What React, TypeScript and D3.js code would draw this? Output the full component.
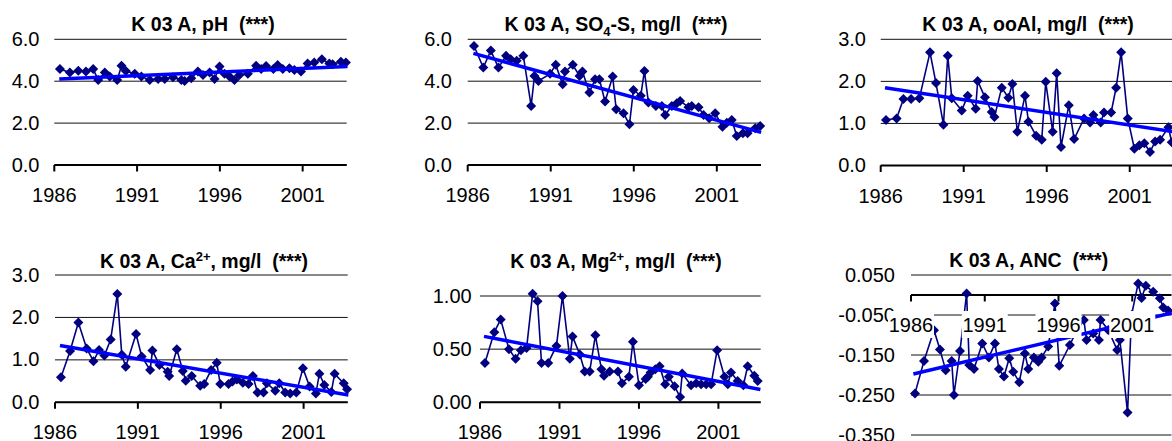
import React from 'react';
import * as d3 from 'd3';

type Pt = [number, number];

const xDomain: [number, number] = [1986, 2003.66];
const xTicks = [1986, 1991, 1996, 2001];

const phData: Pt[] = [
  [1986.34, 4.58], [1986.94, 4.41], [1987.45, 4.5], [1987.91, 4.46], [1988.35, 4.58], [1988.65, 4.06],
  [1989.05, 4.41], [1989.35, 4.22], [1989.8, 4.06], [1990.06, 4.74], [1990.32, 4.49], [1990.86, 4.35],
  [1991.26, 4.22], [1991.76, 4.06], [1992.27, 4.11], [1992.67, 4.11], [1993.17, 4.19], [1993.67, 4.06],
  [1993.87, 4.01], [1994.27, 4.14], [1994.67, 4.46], [1994.98, 4.3], [1995.38, 4.42], [1995.68, 4.11],
  [1995.98, 4.7], [1996.28, 4.35], [1996.58, 4.22], [1996.88, 4.06], [1997.18, 4.3], [1997.69, 4.35],
  [1998.19, 4.74], [1998.49, 4.58], [1998.79, 4.73], [1999.23, 4.58], [1999.49, 4.77], [1999.8, 4.58],
  [2000.2, 4.62], [2000.5, 4.54], [2000.9, 4.46], [2001.3, 4.85], [2001.7, 4.89], [2002.16, 5.05],
  [2002.61, 4.85], [2002.81, 4.81], [2003.31, 4.93], [2003.61, 4.89],
];
const phTrend: Pt[] = [[1986.3, 4.11], [2003.71, 4.7]];
const phYTicks = [0, 2, 4, 6];

const so4Data: Pt[] = [
  [1986.38, 5.68], [1986.94, 4.65], [1987.39, 5.46], [1987.85, 4.65], [1988.31, 5.21], [1988.59, 5.05],
  [1988.95, 4.98], [1989.35, 5.21], [1989.82, 2.82], [1990.02, 4.25], [1990.26, 4.01], [1990.96, 4.35],
  [1991.3, 4.78], [1991.72, 3.85], [1991.86, 4.46], [1992.33, 4.78], [1992.73, 4.25], [1992.91, 4.46],
  [1993.33, 3.46], [1993.67, 4.09], [1993.93, 4.09], [1994.27, 3.03], [1994.73, 4.22], [1994.94, 2.66],
  [1995.38, 2.47], [1995.74, 1.94], [1995.98, 3.58], [1996.42, 3.3], [1996.64, 4.49], [1996.88, 2.98],
  [1997.33, 2.82], [1997.69, 2.82], [1997.89, 2.39], [1998.29, 2.82], [1998.59, 2.95], [1998.79, 3.06],
  [1999.29, 2.76], [1999.49, 2.82], [1999.9, 2.76], [2000.2, 2.39], [2000.54, 2.23], [2000.9, 2.47],
  [2001.34, 1.83], [2001.6, 2.02], [2001.9, 2.15], [2002.2, 1.39], [2002.57, 1.51], [2002.85, 1.51],
  [2003.31, 1.75], [2003.61, 1.86],
];
const so4Trend: Pt[] = [[1986.34, 5.33], [2003.67, 1.56]];
const so4YTicks = [0, 2, 4, 6];

const ooAlData: Pt[] = [
  [1986.32, 1.08], [1986.96, 1.12], [1987.37, 1.58], [1987.83, 1.58], [1988.33, 1.6], [1988.97, 2.69],
  [1989.33, 1.96], [1989.78, 0.97], [1990.04, 2.61], [1990.28, 1.6], [1990.88, 1.31], [1991.24, 1.66],
  [1991.72, 1.35], [1991.84, 2.01], [1992.28, 1.62], [1992.69, 1.27], [1992.85, 1.15], [1993.29, 1.85],
  [1993.69, 1.61], [1993.93, 1.94], [1994.23, 0.8], [1994.69, 1.66], [1994.9, 1.04], [1995.36, 0.71],
  [1995.7, 0.61], [1995.94, 1.99], [1996.36, 0.8], [1996.6, 2.19], [1996.86, 0.44], [1997.33, 1.43],
  [1997.65, 0.63], [1998.25, 1.12], [1998.61, 1.02], [1998.81, 1.2], [1999.25, 1.02], [1999.45, 1.26],
  [1999.88, 1.26], [2000.18, 1.85], [2000.48, 2.69], [2000.88, 1.12], [2001.28, 0.4], [2001.58, 0.48],
  [2001.88, 0.53], [2002.22, 0.32], [2002.53, 0.57], [2002.83, 0.61], [2003.33, 0.91], [2003.53, 0.55],
];
const ooAlTrend: Pt[] = [[1986.26, 1.85], [2003.66, 0.8]];
const ooAlYTicks = [0, 1, 2, 3];

const caData: Pt[] = [
  [1986.36, 0.59], [1986.91, 1.21], [1987.41, 1.88], [1987.91, 1.27], [1988.32, 0.97], [1988.66, 1.23],
  [1988.98, 1.1], [1989.36, 1.48], [1989.76, 2.55], [1990.03, 1.12], [1990.27, 0.84], [1990.89, 1.61],
  [1991.23, 1.08], [1991.74, 0.76], [1991.88, 1.22], [1992.3, 0.88], [1992.8, 0.72], [1992.89, 0.62],
  [1993.35, 1.25], [1993.71, 0.74], [1993.89, 0.51], [1994.25, 0.62], [1994.76, 0.39], [1995.0, 0.43],
  [1995.42, 0.76], [1995.76, 0.93], [1995.97, 0.43], [1996.47, 0.43], [1996.71, 0.49], [1996.97, 0.54],
  [1997.33, 0.46], [1997.68, 0.43], [1997.94, 0.62], [1998.22, 0.23], [1998.58, 0.23], [1998.78, 0.45],
  [1999.29, 0.27], [1999.53, 0.45], [1999.89, 0.23], [2000.19, 0.21], [2000.56, 0.23], [2000.96, 0.8],
  [2001.36, 0.37], [2001.74, 0.21], [2001.95, 0.67], [2002.25, 0.41], [2002.67, 0.24], [2002.87, 0.67],
  [2003.42, 0.45], [2003.62, 0.31],
];
const caTrend: Pt[] = [[1986.3, 1.34], [2003.7, 0.17]];
const caYTicks = [0, 1, 2, 3];

const mgData: Pt[] = [
  [1986.31, 0.37], [1986.9, 0.66], [1987.3, 0.78], [1987.82, 0.5], [1988.24, 0.41], [1988.57, 0.49],
  [1988.93, 0.51], [1989.31, 1.02], [1989.62, 0.95], [1989.87, 0.37], [1990.29, 0.37], [1990.81, 0.53],
  [1991.19, 1.0], [1991.65, 0.41], [1991.82, 0.62], [1992.28, 0.45], [1992.59, 0.29], [1992.9, 0.29],
  [1993.26, 0.63], [1993.64, 0.31], [1993.8, 0.25], [1994.16, 0.29], [1994.68, 0.29], [1994.93, 0.18],
  [1995.37, 0.24], [1995.62, 0.57], [1996.0, 0.16], [1996.42, 0.22], [1996.56, 0.24], [1996.73, 0.28],
  [1997.03, 0.31], [1997.3, 0.34], [1997.65, 0.17], [1997.88, 0.24], [1998.24, 0.15], [1998.59, 0.05],
  [1998.72, 0.27], [1999.28, 0.16], [1999.6, 0.18], [1999.91, 0.17], [2000.23, 0.17], [2000.54, 0.17],
  [2000.92, 0.49], [2001.38, 0.24], [2001.59, 0.17], [2001.79, 0.28], [2002.21, 0.2], [2002.57, 0.16],
  [2002.84, 0.34], [2003.26, 0.25], [2003.47, 0.2],
];
const mgTrend: Pt[] = [[1986.25, 0.62], [2003.64, 0.12]];
const mgYTicks = [0, 0.5, 1.0];

const ancData: Pt[] = [
  [1986.27, -0.246], [1986.88, -0.165], [1987.56, -0.088], [1987.96, -0.136], [1988.35, -0.188],
  [1988.76, -0.165], [1988.91, -0.25], [1989.32, -0.14], [1989.77, 0.004], [1989.95, -0.175],
  [1990.27, -0.185], [1990.83, -0.121], [1991.28, -0.156], [1991.69, -0.121], [1991.96, -0.185],
  [1992.3, -0.204], [1992.66, -0.158], [1992.93, -0.192], [1993.34, -0.218], [1993.72, -0.146],
  [1993.95, -0.185], [1994.33, -0.156], [1994.63, -0.167], [1994.85, -0.156], [1995.3, -0.129],
  [1995.76, -0.021], [1996.05, -0.177], [1996.77, -0.125], [1997.22, -0.09], [1997.72, -0.0625],
  [1997.9, -0.1125], [1998.35, -0.096], [1998.74, -0.1125], [1998.85, -0.0625], [1999.37, -0.0875],
  [1999.98, -0.1375], [2000.16, -0.1125], [2000.68, -0.294], [2000.95, -0.05], [2001.4, 0.029],
  [2001.63, -0.0075], [2001.92, 0.023], [2002.42, 0.008], [2002.87, -0.008], [2003.1, -0.031],
  [2003.43, -0.039],
];
const ancTrend: Pt[] = [[1986.16, -0.1975], [2003.68, -0.045]];
const ancYTicks = [0.05, -0.05, -0.15, -0.25, -0.35];

const FONT = 'Liberation Sans, Arial, Helvetica, sans-serif';
const NAVY = '#000080';
const TREND = '#0000FF';

const diamondType = {
  draw(ctx: any, size: number) {
    const r = Math.sqrt(size / 2);
    ctx.moveTo(0, -r);
    ctx.lineTo(r, 0);
    ctx.lineTo(0, r);
    ctx.lineTo(-r, 0);
    ctx.closePath();
  },
};
const diamondPath = d3.symbol(diamondType as any, 50)() as string;

interface PanelProps {
  title: React.ReactNode;
  data: Pt[];
  trend: Pt[];
  yTicks: number[];
  yFmt: (v: number) => string;
  yDomain: [number, number];
  left: number;
  right: number;
  top: number;
  bottom: number;
  labelRight: number;
  titleX: number;
  titleY: number;
}

function Panel(p: PanelProps) {
  const x = d3.scaleLinear().domain(xDomain).range([p.left, p.right]);
  const y = d3.scaleLinear().domain(p.yDomain).range([p.bottom, p.top]);
  const line = d3.line<Pt>().x((d) => x(d[0])).y((d) => y(d[1]));
  const axisY = y(0);
  const labelBase = axisY + 37;
  return (
    <g>
      {p.yTicks.map((t) => (
        <line key={'g' + t} x1={p.left} x2={p.right} y1={y(t)} y2={y(t)} stroke="#111" strokeWidth={1} />
      ))}
      {p.yTicks.map((t) => (
        <text key={'yl' + t} x={p.labelRight} y={y(t) + 6.5} textAnchor="end" fontSize={20} fontFamily={FONT} fill="#000">
          {p.yFmt(t)}
        </text>
      ))}
      <line x1={p.left} x2={p.right} y1={axisY} y2={axisY} stroke="#000" strokeWidth={2} />
      {xTicks.map((t) => (
        <line key={'t' + t} x1={x(t)} x2={x(t)} y1={axisY} y2={axisY + 6.5} stroke="#000" strokeWidth={2} />
      ))}
      <path d={line(p.data) || ''} fill="none" stroke={NAVY} strokeWidth={1.6} />
      {p.data.map((d, i) => (
        <path key={'m' + i} d={diamondPath} transform={`translate(${x(d[0])},${y(d[1])})`} fill={NAVY} />
      ))}
      <path d={line(p.trend) || ''} fill="none" stroke={TREND} strokeWidth={3.5} />
      {xTicks.map((t) => (
        <g key={'xl' + t}>
          <rect x={x(t) - 23} y={labelBase - 21} width={46} height={27} fill="#fff" />
          <text x={x(t)} y={labelBase} textAnchor="middle" fontSize={20} fontFamily={FONT} fill="#000">
            {t}
          </text>
        </g>
      ))}
      <text x={p.titleX} y={p.titleY} textAnchor="middle" fontSize={19.5} fontWeight="bold" fontFamily={FONT} fill="#000" style={{ whiteSpace: 'pre' }}>
        {p.title}
      </text>
    </g>
  );
}

const f1 = d3.format('.1f');
const f2 = d3.format('.2f');
const f3 = (v: number) => d3.format('.3f')(v).replace('−', '-');

export default function App() {
  return (
    <svg width={1172} height={441} style={{ position: 'absolute', left: 0, top: 0, background: '#fff' }}>
      <rect x={0} y={0} width={1172} height={441} fill="#fff" />
      <Panel
        title={'K 03 A, pH  (***)'}
        data={phData} trend={phTrend} yTicks={phYTicks} yFmt={f1} yDomain={[0, 6]}
        left={54.3} right={346.7} top={39.3} bottom={165} labelRight={39.5} titleX={203} titleY={30.5}
      />
      <Panel
        title={<>{'K 03 A, SO'}<tspan dy={5} fontSize={13}>4</tspan><tspan dy={-5}>{'-S, mg/l  (***)'}</tspan></>}
        data={so4Data} trend={so4Trend} yTicks={so4YTicks} yFmt={f1} yDomain={[0, 6]}
        left={467.7} right={761} top={39.3} bottom={165} labelRight={452} titleX={616} titleY={30.5}
      />
      <Panel
        title={'K 03 A, ooAl, mg/l  (***)'}
        data={ooAlData} trend={ooAlTrend} yTicks={ooAlYTicks} yFmt={f1} yDomain={[0, 3]}
        left={880.7} right={1173.9} top={39.3} bottom={165.5} labelRight={866} titleX={1028} titleY={30.5}
      />
      <Panel
        title={<>{'K 03 A, Ca'}<tspan dy={-7} fontSize={13}>2+</tspan><tspan dy={7}>{', mg/l  (***)'}</tspan></>}
        data={caData} trend={caTrend} yTicks={caYTicks} yFmt={f1} yDomain={[0, 3]}
        left={55} right={347.7} top={275} bottom={402.3} labelRight={39.5} titleX={204} titleY={267.7}
      />
      <Panel
        title={<>{'K 03 A, Mg'}<tspan dy={-7} fontSize={13}>2+</tspan><tspan dy={7}>{', mg/l  (***)'}</tspan></>}
        data={mgData} trend={mgTrend} yTicks={mgYTicks} yFmt={f2} yDomain={[0, 1]}
        left={480} right={760.7} top={296} bottom={402.3} labelRight={471.7} titleX={616} titleY={267.7}
      />
      <Panel
        title={'K 03 A, ANC  (***)'}
        data={ancData} trend={ancTrend} yTicks={ancYTicks} yFmt={f3} yDomain={[-0.35, 0.05]}
        left={911} right={1171.5} top={275} bottom={435} labelRight={895} titleX={1028.7} titleY={266.7}
      />
    </svg>
  );
}
